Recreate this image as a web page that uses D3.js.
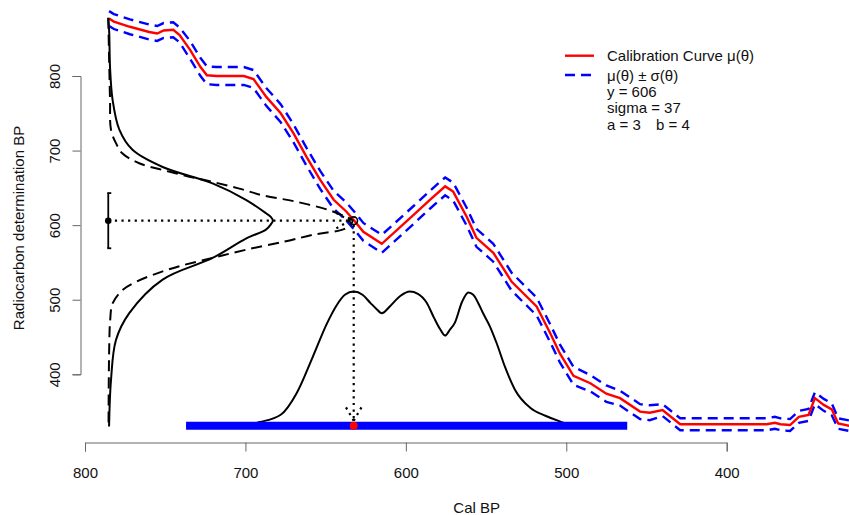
<!DOCTYPE html>
<html>
<head>
<meta charset="utf-8">
<script src="https://cdn.jsdelivr.net/npm/d3@7"></script>
<style>
body { margin: 0; background: #fff; }
text { font-family: "Liberation Sans", Arial, Helvetica, sans-serif; font-size: 15px; fill: #111; }
.axis path, .axis line { stroke: #666; stroke-width: 1; }
</style>
</head>
<body>
<div id="chart"></div>
<script>

// calibration curve: cal BP, 14C BP and 1 sd
var calTheta = [785, 782, 772, 760, 755, 751, 745, 741, 734.5, 728, 724, 718, 710, 701, 695, 687, 678, 670, 662, 653.5,
  645, 637, 632.5, 626.5, 615, 595, 585, 575.5, 570.5, 562, 556, 545.5, 534, 518.5, 510, 504, 495.5, 485, 475, 466.5,
  454, 448, 440, 429, 412, 392, 375, 370, 366.5, 360.5, 355, 349, 345, 339.5, 334.5, 330.5, 323.5];
var calMu = [877, 873, 866, 859, 857, 861, 862, 855, 835, 812, 801, 800, 800, 800, 796, 772, 750, 723, 692, 661,
  634, 618, 607, 591, 575, 614, 634, 652, 645, 611, 583, 563, 524, 491, 455, 428, 398, 388, 374, 368,
  350, 348.5, 352, 333, 333, 333, 333, 335, 333, 332, 343, 345.5, 368, 359, 353, 334, 331];
var calSigma = [10, 10, 10, 10, 10, 10, 10, 10, 12, 12, 12, 12, 12, 12, 12, 12, 12, 12, 12, 12,
  12, 12, 12, 12, 12, 12, 12, 12, 12, 12, 12, 12, 12, 12, 12, 12, 12, 11, 11, 10,
  10, 10, 8, 8, 8, 8, 8, 8, 8, 8, 8, 8, 8, 8, 8, 7, 7];

// the measurement
var obsY = 606, obsSigma = 37, paramA = 3, paramB = 4;
var thetaHat = 632.5;     // where y meets the curve
var leftBase = 785.5;     // cal BP where the sideways densities sit

// sideways densities of y (height given in cal years)
var likeY = [878, 858, 812, 768, 728, 701, 678, 656, 634, 616, 611, 606, 601, 594, 582, 556, 527, 482, 446, 392, 330];
var likeT = [0, 0.6, 1.1, 2.7, 6.9, 15.1, 33.9, 65, 85.8, 98.3, 101.3, 102.6, 101.3, 98.3, 85.8, 65, 33.9, 13.1, 4.8, 1.7, 0.5];
var normY = [878, 858, 768, 728, 710, 696, 683, 674, 665, 658, 649, 640, 631.5, 620, 611, 606, 596, 587, 578, 567,
  556, 545, 538, 524, 513, 495, 473, 437, 348, 330];
var normH = [0, 0.2, 1.1, 1.7, 4.8, 8.9, 19.3, 33.9, 50.5, 65, 81.7, 96.2, 117, 137.8, 148.2, 152.3, 148.2, 127.4, 110, 85.8,
  65, 44.3, 33.9, 17.3, 8.9, 2.7, 1.2, 0.6, 0.2, 0.2];

// posterior of theta (height given in 14C years above postBase)
var postTheta = [737, 703, 691, 678, 668, 658, 649, 643, 638, 632.5, 627, 622, 618.5, 615, 610, 603.5, 597.5, 592.5, 587, 582.5,
  578.5, 575.5, 572.5, 569.5, 565, 561, 558, 555, 552, 547.5, 543.5, 538, 532, 522.5, 513, 504, 497.5, 491];
var postDens = [0, 0, 5, 14.7, 44, 92.5, 138, 162, 175.6, 180, 175.6, 164.5, 157, 151, 160, 174, 180, 177, 165, 145,
  129, 121, 129, 138, 166, 178.7, 175.6, 165, 151.5, 132.7, 111.3, 77.8, 48.3, 24.1, 13.4, 5.8, 1.3, 0];
var postBase = 331;
var thetaRange = [737, 462];

var xTicks = [800, 700, 600, 500, 400];
var yTicks = [400, 500, 600, 700, 800];

var width = 849, height = 515;

var svg = d3.select("#chart")
  .append("svg")
  .attr("width", width)
  .attr("height", height);

var x = d3.scaleLinear().domain([800, 400]).range([85, 726.7]);
var y = d3.scaleLinear().domain([800, 400]).range([76, 374.3]);

// axes
var xAxis = svg.append("g")
  .attr("class", "axis")
  .attr("transform", "translate(0,442.5)")
  .call(d3.axisBottom(x).tickValues(xTicks).tickSize(9).tickPadding(15.5).tickFormat(d3.format("d")));

var yAxis = svg.append("g")
  .attr("class", "axis")
  .attr("transform", "translate(80.5,0)")
  .call(d3.axisLeft(y).tickValues(yTicks).tickSize(8).tickFormat(d3.format("d")));
yAxis.selectAll("text")
  .attr("x", 0)
  .attr("y", -21)
  .attr("dy", null)
  .attr("text-anchor", "middle")
  .attr("transform", "rotate(-90)");

svg.append("text")
  .attr("x", 476.7)
  .attr("y", 513)
  .attr("text-anchor", "middle")
  .text("Cal BP");

svg.append("text")
  .attr("transform", "translate(23.5,228) rotate(-90)")
  .attr("text-anchor", "middle")
  .text("Radiocarbon determination BP");

// calibration curve and bands
var cal = calTheta.map(function(t, i) { return {t: t, m: calMu[i], s: calSigma[i]}; });

var band = function(sign) {
  return d3.line()
    .x(function(d) { return x(d.t); })
    .y(function(d) { return y(d.m + sign * d.s); });
};
[1, -1].forEach(function(sign) {
  svg.append("path")
    .datum(cal)
    .attr("d", band(sign))
    .attr("fill", "none")
    .attr("stroke", "#0000ff")
    .attr("stroke-width", 2.4)
    .attr("stroke-dasharray", "10,6");
});

svg.append("path")
  .datum(cal)
  .attr("d", d3.line().x(function(d) { return x(d.t); }).y(function(d) { return y(d.m); }))
  .attr("fill", "none")
  .attr("stroke", "#ff0000")
  .attr("stroke-width", 2.4);

// sideways densities
var sideways = d3.line()
  .x(function(d) { return x(leftBase - d[1]); })
  .y(function(d) { return y(d[0]); })
  .curve(d3.curveCatmullRom.alpha(0.5));

svg.append("path")
  .datum(likeY.map(function(v, i) { return [v, likeT[i]]; }))
  .attr("d", sideways)
  .attr("fill", "none")
  .attr("stroke", "#000")
  .attr("stroke-width", 2);

svg.append("path")
  .datum(normY.map(function(v, i) { return [v, normH[i]]; }))
  .attr("d", sideways)
  .attr("fill", "none")
  .attr("stroke", "#000")
  .attr("stroke-width", 2)
  .attr("stroke-dasharray", "11,6");

// posterior
svg.append("path")
  .datum(postTheta.map(function(t, i) { return [t, postDens[i]]; }))
  .attr("d", d3.line()
    .x(function(d) { return x(d[0]); })
    .y(function(d) { return y(postBase + d[1]); })
    .curve(d3.curveMonotoneX))
  .attr("fill", "none")
  .attr("stroke", "#000")
  .attr("stroke-width", 2);

// dotted arrows: y -> curve -> theta
var dotted = function(x1, y1, x2, y2) {
  svg.append("line")
    .attr("x1", x1).attr("y1", y1).attr("x2", x2).attr("y2", y2)
    .attr("stroke", "#000")
    .attr("stroke-width", 2.2)
    .attr("stroke-dasharray", "2.2,4.4");
};
var arrow = function(x1, y1, x2, y2) {
  dotted(x1, y1, x2, y2);
  var ang = Math.atan2(y2 - y1, x2 - x1), len = 17;
  [-Math.PI / 6, Math.PI / 6].forEach(function(a) {
    dotted(x2, y2, x2 - len * Math.cos(ang + a), y2 - len * Math.sin(ang + a));
  });
};
arrow(x(leftBase), y(obsY), x(thetaHat) - 4, y(obsY));
arrow(x(thetaHat), y(obsY) + 4, x(thetaHat), y(postBase) - 5);

// range of theta
svg.append("line")
  .attr("x1", x(thetaRange[0]))
  .attr("x2", x(thetaRange[1]))
  .attr("y1", y(postBase))
  .attr("y2", y(postBase))
  .attr("stroke", "#0000ff")
  .attr("stroke-width", 8);

svg.append("circle")
  .attr("cx", x(thetaHat))
  .attr("cy", y(postBase))
  .attr("r", 4)
  .attr("fill", "#ff0000");

svg.append("circle")
  .attr("cx", x(thetaHat))
  .attr("cy", y(obsY))
  .attr("r", 3.8)
  .attr("fill", "none")
  .attr("stroke", "#000")
  .attr("stroke-width", 1.6);

// measurement with error bar
var bx = x(leftBase);
svg.append("line")
  .attr("x1", bx).attr("x2", bx)
  .attr("y1", y(obsY + obsSigma)).attr("y2", y(obsY - obsSigma))
  .attr("stroke", "#000").attr("stroke-width", 1.8);
[obsY + obsSigma, obsY - obsSigma].forEach(function(v) {
  svg.append("line")
    .attr("x1", bx - 1).attr("x2", bx + 3)
    .attr("y1", y(v)).attr("y2", y(v))
    .attr("stroke", "#000").attr("stroke-width", 1.8);
});
svg.append("circle")
  .attr("cx", bx)
  .attr("cy", y(obsY))
  .attr("r", 3.3)
  .attr("fill", "#000");

// legend
var legend = svg.append("g");
legend.append("line")
  .attr("x1", 565).attr("x2", 594).attr("y1", 55.7).attr("y2", 55.7)
  .attr("stroke", "#ff0000").attr("stroke-width", 2.4);
legend.append("line")
  .attr("x1", 565).attr("x2", 594).attr("y1", 75).attr("y2", 75)
  .attr("stroke", "#0000ff").attr("stroke-width", 2.4).attr("stroke-dasharray", "10,6");
legend.append("text").attr("x", 607).attr("y", 61).text("Calibration Curve \u03bc(\u03b8)");
legend.append("text").attr("x", 607).attr("y", 80.5).text("\u03bc(\u03b8) \u00b1 \u03c3(\u03b8)");
legend.append("text").attr("x", 607).attr("y", 96.5).text("y = " + obsY);
legend.append("text").attr("x", 607).attr("y", 113).text("sigma = " + obsSigma);
legend.append("text").attr("x", 607).attr("y", 129.7).text("a = " + paramA);
legend.append("text").attr("x", 656).attr("y", 129.7).text("b = " + paramB);

</script>
</body>
</html>
